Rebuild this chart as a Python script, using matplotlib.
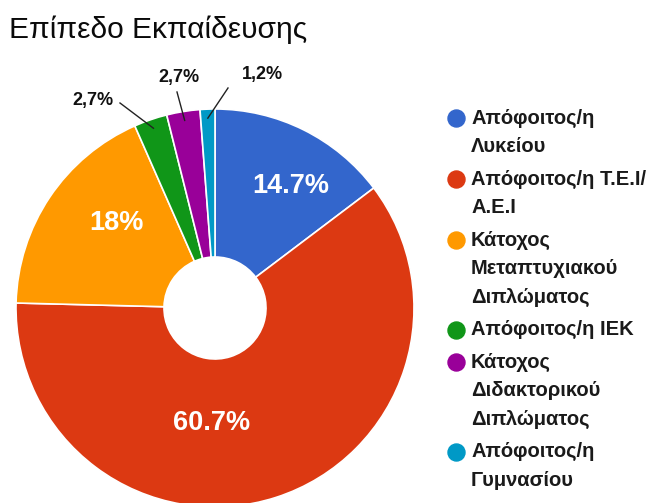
import numpy as np
import matplotlib.pyplot as plt

# education level shares (%)
categories = [
    "Απόφοιτος/η\nΛυκείου",
    "Απόφοιτος/η Τ.Ε.Ι/\nΑ.Ε.Ι",
    "Κάτοχος\nΜεταπτυχιακού\nΔιπλώματος",
    "Απόφοιτος/η ΙΕΚ",
    "Κάτοχος\nΔιδακτορικού\nΔιπλώματος",
    "Απόφοιτος/η\nΓυμνασίου",
]
shares = [14.7, 60.7, 18, 2.7, 2.7, 1.2]
colors = ["#3366cc", "#dc3912", "#ff9900", "#109618", "#990099", "#0099c6"]
title = "Επίπεδο Εκπαίδευσης"

plt.rcParams['font.family'] = ['Liberation Sans', 'DejaVu Sans']

W, H = 654, 503
fig = plt.figure(figsize=(W / 100, H / 100), dpi=100)
ax = fig.add_axes([0, 0, 1, 1])

# pixel layout, y grows downwards
cx, cy, R, r_hole = 215, 308, 199, 51

# y axis is inverted, so counterclock in data space runs clockwise on screen
wedges, _ = ax.pie(shares, colors=colors, startangle=-90, counterclock=True,
                   center=(cx, cy), radius=R,
                   wedgeprops=dict(width=R - r_hole, edgecolor='white', linewidth=1.2))
ax.set_xlim(0, W)
ax.set_ylim(H, 0)
ax.set_aspect('equal')
ax.axis('off')

ax.text(9, 30, title, fontsize=21.5, va='center', ha='left', color='#0a0a0a')

def pct(v, comma=False):
    s = f"{v:g}%"
    return s.replace('.', ',') if comma else s

# labels inside the large slices
inside = {0: (291, 186), 1: (212, 423), 2: (116, 223)}
for i, (x, y) in inside.items():
    ax.text(x, y, pct(shares[i]), color='white', fontsize=19.5, fontweight='bold',
            ha='center', va='center')

# small slices get outside labels with leader lines
outside = {3: ((93, 100), (120, 103)), 4: ((179, 77), (177, 92)), 5: ((262, 74), (228, 88))}
for i, ((tx, ty), (lx, ly)) in outside.items():
    w = wedges[i]
    mid = np.deg2rad((w.theta1 + w.theta2) / 2)
    ex, ey = cx + 190 * np.cos(mid), cy + 190 * np.sin(mid)
    ax.plot([lx, ex], [ly, ey], color='#222222', lw=1)
    ax.text(tx, ty, pct(shares[i], comma=True), color='#111111', fontsize=13,
            fontweight='bold', ha='center', va='center')

# legend
line_h, gap = 28.5, 4
y = 118
for lab, c in zip(categories, colors):
    ax.scatter([456], [y], s=150, color=c, zorder=3)
    for k, line in enumerate(lab.split("\n")):
        ax.text(471, y + k * line_h, line, fontsize=14.5, fontweight='bold',
                color='#1a1a1a', ha='left', va='center')
    y += len(lab.split("\n")) * line_h + gap

fig.savefig("out.png", dpi=100)
